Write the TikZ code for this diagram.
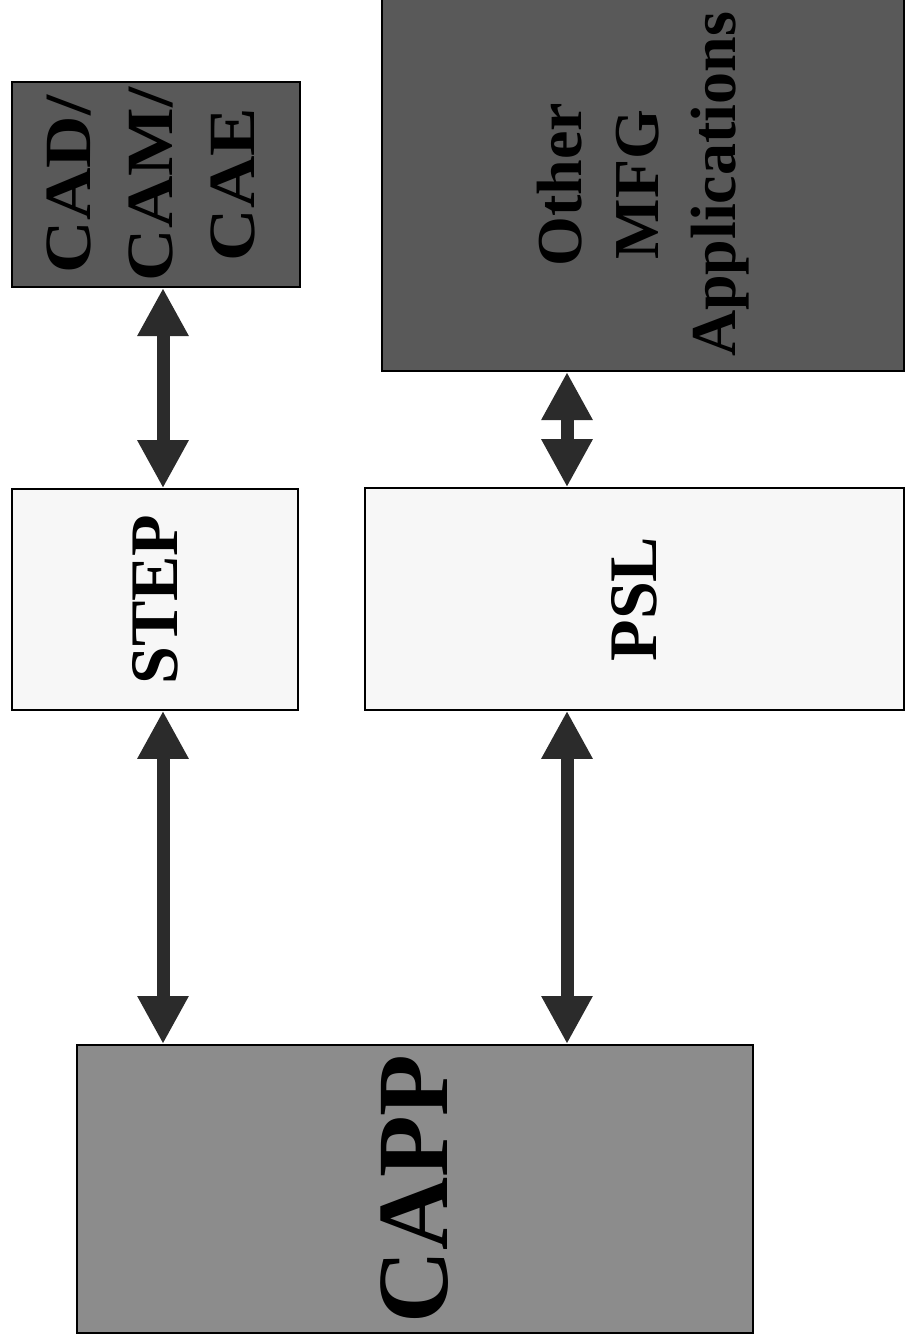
\documentclass[tikz,border=0pt]{standalone}
\usepackage{fontspec}
\setmainfont{Liberation Serif}
\usetikzlibrary{positioning, arrows.meta}
\definecolor{boxdark}{gray}{0.35}
\definecolor{boxmid}{gray}{0.55}
\definecolor{boxlight}{gray}{0.97}
\definecolor{arrowgray}{gray}{0.17}

\begin{document}
\begin{tikzpicture}[x=1pt, y=-1pt,
  darkbox/.style={draw, line width=2pt, fill=boxdark, inner sep=0pt, font=\bfseries},
  lightbox/.style={draw, line width=1.6pt, fill=boxlight, inner sep=0pt, font=\bfseries},
  link/.style={arrowgray, line width=13pt, {Triangle[width=48pt,length=48pt]}-{Triangle[width=48pt,length=48pt]}}]
\useasboundingbox (0,0) rectangle (906,1341);

% Arrow columns
\coordinate (colA) at (163,0);
\coordinate (colB) at (567,0);

% Top row
\node[darkbox, minimum width=288pt, minimum height=205pt] (cad) at (156,184.5)
  {\rotatebox{90}{\scalebox{1.1}[1]{\fontsize{66}{82}\selectfont\begin{tabular}{@{}c@{}}CAD/\\CAM/\\CAE\end{tabular}}}};
\node[darkbox, minimum width=522pt, minimum height=373pt] (other) at (643,184.5)
  {\rotatebox{90}{\fontsize{64}{77}\selectfont\begin{tabular}{@{}c@{}}Other\\MFG\\Applications\end{tabular}}};

% Middle row
\node[lightbox, minimum width=286pt, minimum height=221pt] (step) at (155,599.5)
  {\rotatebox{90}{\fontsize{68}{80}\selectfont STEP}};
\node[lightbox, minimum width=539pt, minimum height=222pt] (psl) at (634.5,599)
  {\rotatebox{90}{\fontsize{68}{80}\selectfont PSL}};

% Bottom
\node[darkbox, fill=boxmid, minimum width=676pt, minimum height=288pt] (capp) at (415,1189)
  {\rotatebox{90}{\fontsize{101}{110}\selectfont CAPP}};

% Links
\draw[link] (cad.south -| colA) -- (step.north -| colA);
\draw[link] (other.south -| colB) -- (psl.north -| colB);
\draw[link] (step.south -| colA) -- (capp.north -| colA);
\draw[link] (psl.south -| colB) -- (capp.north -| colB);
\end{tikzpicture}
\end{document}
